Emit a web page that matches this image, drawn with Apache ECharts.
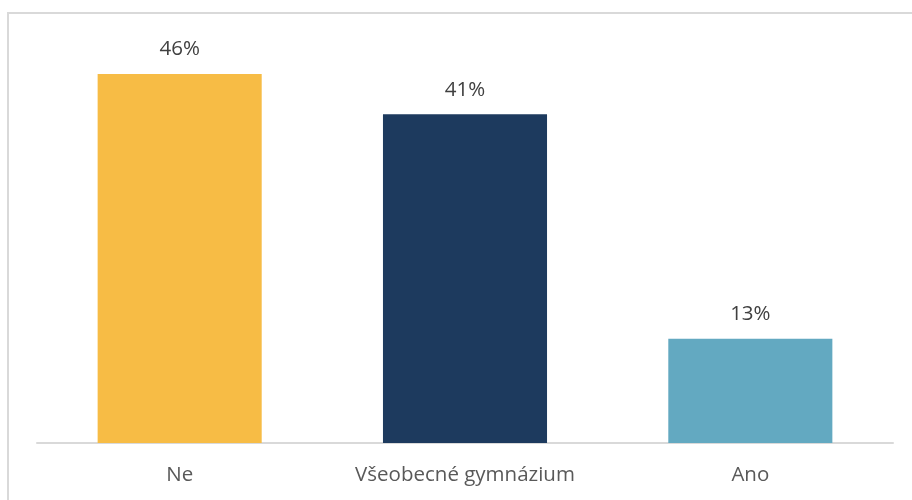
<!DOCTYPE html>
<html>
<head>
<meta charset="utf-8">
<script src="https://cdn.jsdelivr.net/npm/echarts@6/dist/echarts.min.js"></script>
<style>
  html, body { margin: 0; padding: 0; background: #ffffff; }
  #chart { width: 912px; height: 500px; }
</style>
</head>
<body>
<div id="chart"></div>
<script>
// Categories and shares (percent)
var categories = ['Ne', 'Všeobecné gymnázium', 'Ano'];
var values = [46, 41, 13];
var barColors = ['#F7BC45', '#1D3A5E', '#63A9C1'];

var chart = echarts.init(document.getElementById('chart'));

chart.setOption({
  backgroundColor: '#ffffff',
  animation: false,
  graphic: [{
    type: 'rect',
    shape: { x: 8, y: 13, width: 930, height: 520 },
    style: { fill: 'none', stroke: '#d9d9d9', lineWidth: 2 },
    silent: true
  }],
  grid: { left: 37, right: 19, top: 42, bottom: 57 },
  xAxis: {
    type: 'category',
    data: categories,
    axisLine: { show: true, lineStyle: { color: '#d9d9d9', width: 2 } },
    axisTick: { show: false },
    axisLabel: {
      interval: 0,
      color: '#595959',
      fontFamily: 'Open Sans, Liberation Sans, sans-serif',
      fontSize: 20.5,
      margin: 22
    }
  },
  yAxis: {
    type: 'value',
    min: 0,
    max: 50,
    show: false,
    splitLine: { show: false }
  },
  series: [{
    type: 'bar',
    barWidth: '57.5%',
    data: values.map(function (v, i) {
      return { value: v, itemStyle: { color: barColors[i] } };
    }),
    label: {
      show: true,
      position: 'top',
      distance: 14,
      formatter: '{c}%',
      color: '#404040',
      fontFamily: 'Open Sans, Liberation Sans, sans-serif',
      fontSize: 20.5
    }
  }]
});
</script>
</body>
</html>
